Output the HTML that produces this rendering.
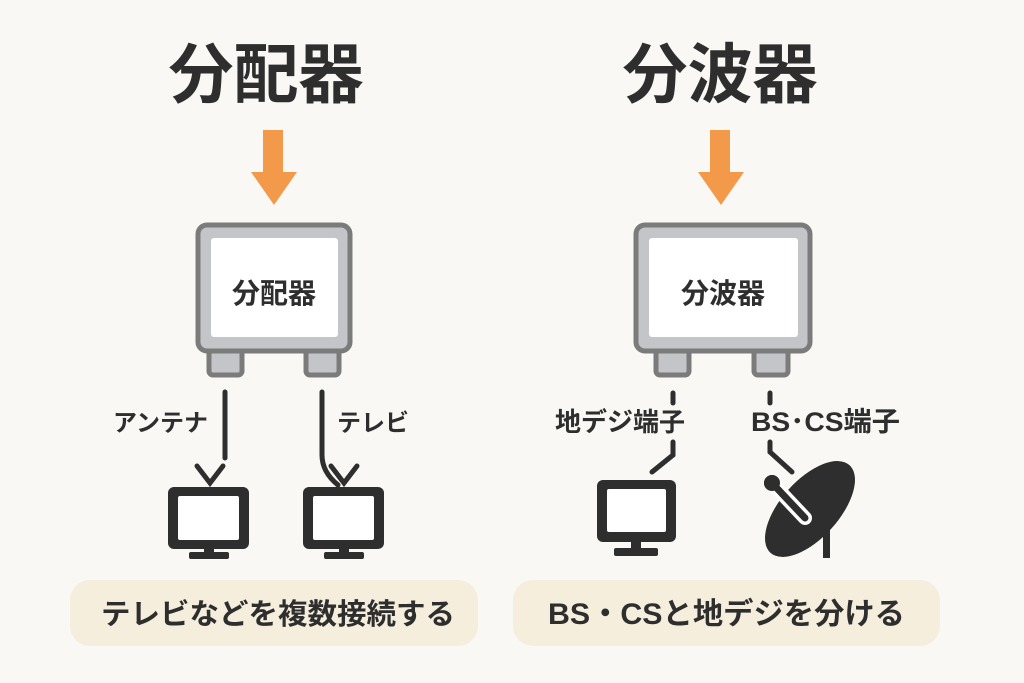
<!DOCTYPE html>
<html><head><meta charset="utf-8"><style>
html,body{margin:0;padding:0;background:#faf8f4;}
svg{display:block}
text{font-family:"Liberation Sans","Noto Sans CJK JP",sans-serif;font-weight:bold;fill:#2e2e2e}
</style></head><body>
<svg width="1024" height="683" viewBox="0 0 1024 683">
<rect width="1024" height="683" fill="#faf8f4"/>
<text x="266" y="97" font-size="65" text-anchor="middle">分配器</text>
<text x="720" y="97" font-size="65" text-anchor="middle">分波器</text>
<g fill="#f39a4a">
<rect x="263" y="130" width="20" height="44"/><polygon points="251,172 297,172 274,205"/>
<rect x="710" y="130" width="20" height="44"/><polygon points="698,172 744,172 721,205"/>
</g>
<g stroke="#7b7b7b" stroke-width="5" fill="#c4c5c8">
<rect x="209" y="350" width="33" height="25" rx="4"/>
<rect x="306" y="350" width="33" height="25" rx="4"/>
<rect x="198" y="225" width="152" height="126" rx="9"/>
<rect x="656" y="350" width="33" height="25" rx="4"/>
<rect x="754" y="350" width="34" height="25" rx="4"/>
<rect x="636" y="225" width="174" height="126" rx="9"/>
</g>
<rect x="211" y="238" width="127" height="99" rx="3" fill="#fff"/>
<rect x="649" y="238" width="149" height="99" rx="3" fill="#fff"/>
<text x="274" y="303" font-size="28" text-anchor="middle">分配器</text>
<text x="723" y="303" font-size="28" text-anchor="middle">分波器</text>
<g stroke="#2e2e2e" stroke-width="5" fill="none" stroke-linecap="round">
<line x1="225" y1="392" x2="225" y2="458"/>
<path d="M322 392 V455 Q322 472 338 485"/>
<polyline points="197,466 210,483 223,466"/>
<polyline points="331,466 344,483 357,466"/>
<line x1="673" y1="393" x2="673" y2="403"/>
<path d="M673 442 V455 L652 472"/>
<line x1="770" y1="393" x2="770" y2="403"/>
<path d="M770 442 V452 L792 472"/>
</g>
<g fill="#2e2e2e">
<rect x="168" y="487" width="81" height="62" rx="6"/>
<rect x="303" y="487" width="81" height="62" rx="6"/>
<rect x="204" y="548" width="10" height="8"/><rect x="189" y="552" width="40" height="7" rx="2"/>
<rect x="339" y="548" width="10" height="8"/><rect x="324" y="552" width="40" height="7" rx="2"/>
<rect x="597" y="480" width="79" height="62" rx="6"/>
<rect x="631" y="540" width="10" height="10"/><rect x="614" y="548" width="44" height="8" rx="2"/>
</g>
<g fill="#fff">
<rect x="178" y="496" width="61" height="44" rx="2"/>
<rect x="313" y="496" width="61" height="44" rx="2"/>
<rect x="607" y="489" width="59" height="43" rx="2"/>
</g>
<g fill="#2e2e2e">
<rect x="823" y="525" width="7" height="33"/>
<ellipse cx="810" cy="509" rx="29" ry="59" transform="rotate(42 810 509)"/>
<circle cx="772" cy="483" r="8"/>
</g>
<line x1="772" y1="483" x2="805" y2="518" stroke="#fff" stroke-width="14" stroke-linecap="round"/>
<line x1="772" y1="483" x2="805" y2="518" stroke="#2e2e2e" stroke-width="7" stroke-linecap="round"/>
<circle cx="772" cy="483" r="8" fill="#2e2e2e"/>
<text x="113" y="431" font-size="24">アンテナ</text>
<text x="337" y="431" font-size="24">テレビ</text>
<text x="555" y="431" font-size="26">地デジ端子</text>
<text x="751" y="431" font-size="27" textLength="149" lengthAdjust="spacingAndGlyphs">BS･CS端子</text>
<rect x="70" y="580" width="408" height="66" rx="20" fill="#f5eedc"/>
<rect x="513" y="580" width="427" height="66" rx="20" fill="#f5eedc"/>
<text x="101" y="624" font-size="29" textLength="354" lengthAdjust="spacingAndGlyphs">テレビなどを複数接続する</text>
<text x="548" y="624" font-size="30" textLength="357" lengthAdjust="spacingAndGlyphs">BS・CSと地デジを分ける</text>
</svg>
</body></html>
